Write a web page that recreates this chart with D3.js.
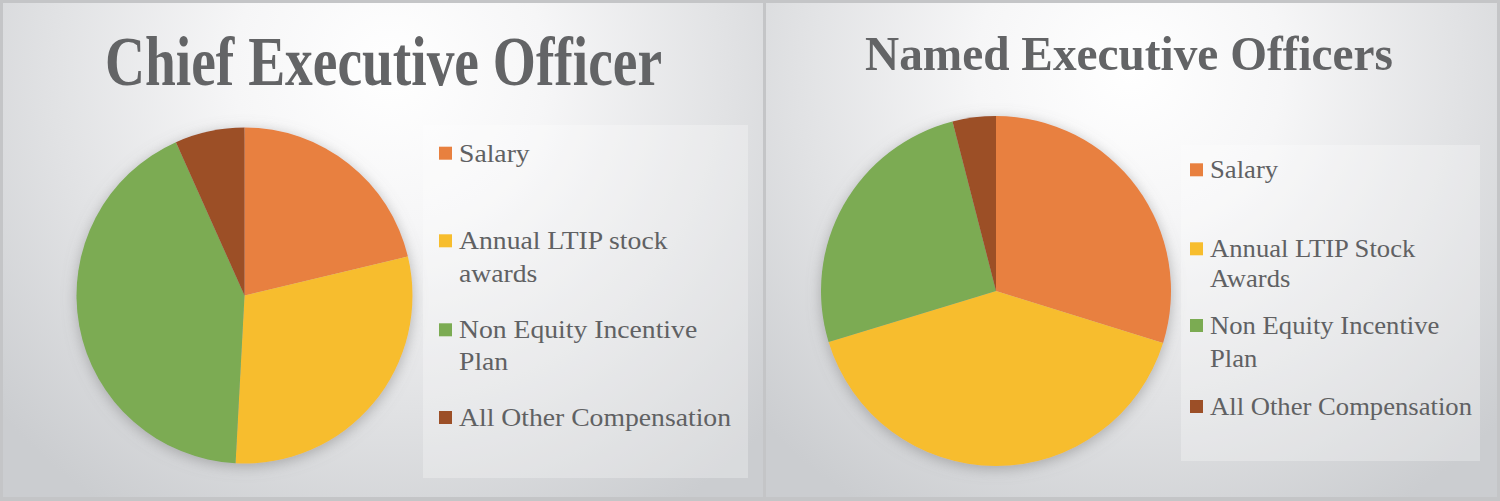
<!DOCTYPE html>
<html>
<head>
<meta charset="utf-8">
<script src="https://cdn.jsdelivr.net/npm/d3@7"></script>
<style>
  html, body { margin: 0; padding: 0; background: #c6c7c9; }
  svg { display: block; }
</style>
</head>
<body>
<svg id="chart" width="1500" height="501"></svg>
<script>
// ---- data ----
const categories = ["Salary", "Annual LTIP stock awards", "Non Equity Incentive Plan", "All Other Compensation"];
const ceoLegendLines = [["Salary"], ["Annual LTIP stock", "awards"], ["Non Equity Incentive", "Plan"], ["All Other Compensation"]];
const neoLegendLines = [["Salary"], ["Annual LTIP Stock", "Awards"], ["Non Equity Incentive", "Plan"], ["All Other Compensation"]];
const ceoValues = [21.3, 29.6, 42.5, 6.7];
const neoValues = [29.8, 40.5, 25.7, 4.0];
const titles = ["Chief Executive Officer", "Named Executive Officers"];
const colors = ["#E8803F", "#F7BD2D", "#7BAB52", "#9C4F27"];

const SERIF = '"Liberation Serif", "Times New Roman", Times, serif';
const svg = d3.select("#chart");
const defs = svg.append("defs");

// panel gradients
function radial(id, cx, cy, r) {
  const g = defs.append("radialGradient").attr("id", id)
    .attr("gradientUnits", "userSpaceOnUse")
    .attr("cx", cx).attr("cy", cy).attr("r", r);
  g.append("stop").attr("offset", 0).attr("stop-color", "#ffffff");
  g.append("stop").attr("offset", 0.3).attr("stop-color", "#f6f6f7");
  g.append("stop").attr("offset", 0.65).attr("stop-color", "#e1e2e4");
  g.append("stop").attr("offset", 1).attr("stop-color", "#cbcdd0");
}
radial("bgL", 390, 70, 520);
radial("bgR", 1130, 70, 510);

const sh = defs.append("filter").attr("id", "shadow")
  .attr("x", "-20%").attr("y", "-20%").attr("width", "140%").attr("height", "140%");
sh.append("feDropShadow").attr("dx", 0).attr("dy", 3).attr("stdDeviation", 7)
  .attr("flood-color", "#808080").attr("flood-opacity", 0.55);

// frame
svg.append("rect").attr("x", 0).attr("y", 0).attr("width", 1500).attr("height", 501).attr("fill", "#c4c5c7");
svg.append("rect").attr("x", 3).attr("y", 3).attr("width", 760).attr("height", 494).attr("fill", "url(#bgL)");
svg.append("rect").attr("x", 766).attr("y", 3).attr("width", 731).attr("height", 494).attr("fill", "url(#bgR)");

const panels = [
  { title: titles[0], values: ceoValues, lines: ceoLegendLines,
    titleX: 105, titleY: 85, titleW: 557, titleSize: 70,
    cx: 244.5, cy: 295.5, r: 168,
    box: [423, 125, 325, 353], sqX: 439, txX: 459, txW: 272,
    baselines: [[161.7], [249.3, 281.7], [338.3, 370], [426]] },
  { title: titles[1], values: neoValues, lines: neoLegendLines,
    titleX: 865, titleY: 70, titleW: 528, titleSize: 49,
    cx: 996, cy: 291, r: 175,
    box: [1181, 145, 299, 316], sqX: 1190, txX: 1210, txW: 262,
    baselines: [[178.3], [257.3, 286.7], [334, 366.7], [415]] }
];

panels.forEach(p => {
  const g = svg.append("g");
  // title
  g.append("text")
    .style("font-family", SERIF)
    .attr("x", p.titleX).attr("y", p.titleY)
    .attr("font-weight", "bold")
    .attr("font-size", p.titleSize)
    .attr("fill", "#636466")
    .attr("textLength", p.titleW)
    .attr("lengthAdjust", "spacingAndGlyphs")
    .text(p.title);

  // pie
  const pie = d3.pie().sort(null).value(d => d)(p.values);
  const arc = d3.arc().innerRadius(0).outerRadius(p.r);
  const pg = g.append("g").attr("transform", `translate(${p.cx},${p.cy})`).attr("filter", "url(#shadow)");
  pg.selectAll("path").data(pie).join("path")
    .attr("d", arc)
    .attr("fill", (d, i) => colors[i]);

  // legend box
  g.append("rect")
    .attr("x", p.box[0]).attr("y", p.box[1]).attr("width", p.box[2]).attr("height", p.box[3])
    .attr("fill", "#ffffff").attr("fill-opacity", 0.28);

  const lg = g.append("g");
  categories.forEach((c, i) => {
    const bl = p.baselines[i];
    lg.append("rect")
      .attr("x", p.sqX).attr("y", bl[0] - 15).attr("width", 13).attr("height", 13)
      .attr("fill", colors[i]);
    p.lines[i].forEach((ln, j) => {
      lg.append("text")
        .attr("class", "lt")
        .style("font-family", SERIF)
        .attr("x", p.txX).attr("y", bl[j])
        .attr("font-size", 26)
        .attr("fill", "#606163")
        .text(ln);
    });
  });
  // horizontally fit the legend text using the longest line width from the picture
  const texts = lg.selectAll("text.lt");
  const longest = texts.filter(function() { return this.textContent === "All Other Compensation"; }).node();
  const k = p.txW / longest.getComputedTextLength();
  texts.each(function() {
    const w = this.getComputedTextLength();
    d3.select(this).attr("textLength", w * k).attr("lengthAdjust", "spacingAndGlyphs");
  });
});
</script>
</body>
</html>
